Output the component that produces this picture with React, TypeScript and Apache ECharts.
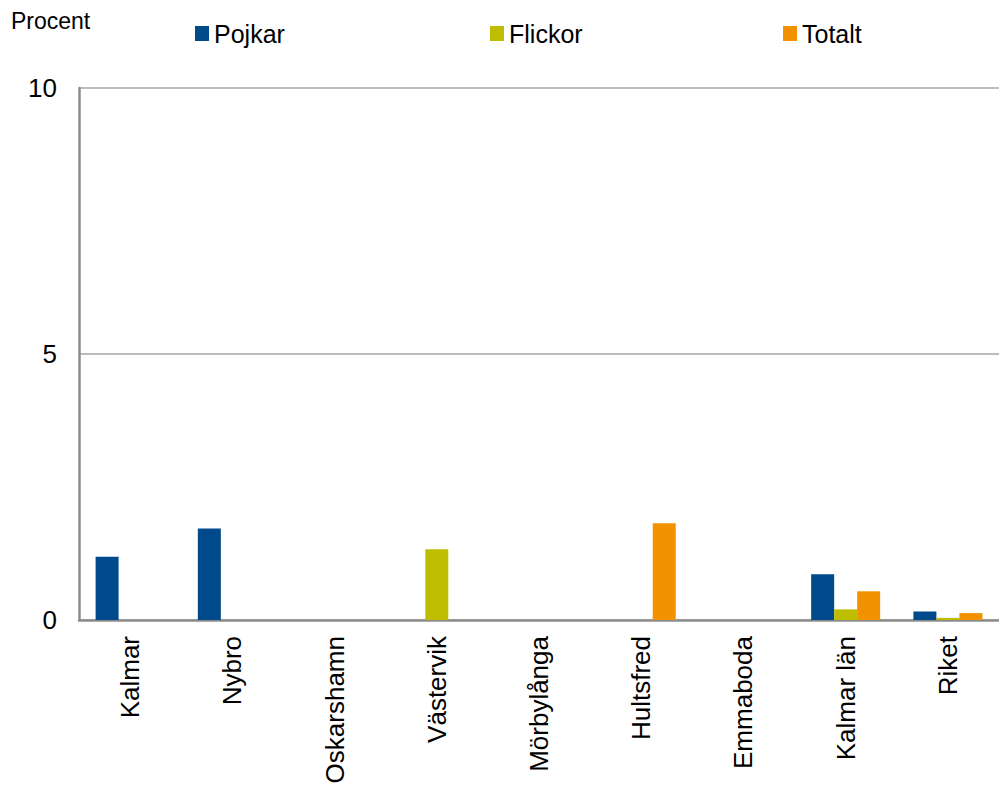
import React, { useEffect, useRef } from "react";
import * as echarts from "echarts";

const categories = ["Kalmar", "Nybro", "Oskarshamn", "Västervik", "Mörbylånga", "Hultsfred", "Emmaboda", "Kalmar län", "Riket"];
const pojkar = [1.19, 1.72, 0, 0, 0, 0, 0, 0.86, 0.16];
const flickor = [0, 0, 0, 1.33, 0, 0, 0, 0.2, 0.04];
const totalt = [0, 0, 0, 0, 0, 1.82, 0, 0.54, 0.13];
const yTicks = [0, 5, 10];

const FONT = "Liberation Sans, Arial, sans-serif";

export default function App() {
  const ref = useRef<HTMLDivElement>(null);
  useEffect(() => {
    if (!ref.current) return;
    const chart = echarts.init(ref.current, null, { renderer: "svg" });
    const legendCommon = {
      top: 21,
      padding: 0,
      itemWidth: 14,
      itemHeight: 15,
      itemGap: 0,
      icon: "rect",
      textStyle: { fontFamily: FONT, fontSize: 25, color: "#000" },
    };
    chart.setOption({
      animation: false,
      textStyle: { fontFamily: FONT },
      legend: [
        { ...legendCommon, data: ["Pojkar"], left: 195 },
        { ...legendCommon, data: ["Flickor"], left: 490 },
        { ...legendCommon, data: ["Totalt"], left: 783 },
      ],
      graphic: [
        {
          type: "text",
          left: 11,
          top: 9,
          style: { text: "Procent", fontFamily: FONT, fontSize: 23, fill: "#000" },
        },
      ],
      grid: { left: 79, right: 0, top: 88, bottom: 169, containLabel: false },
      xAxis: {
        type: "category",
        data: categories,
        axisLine: { show: true, lineStyle: { color: "#8c8c8c", width: 2.5 } },
        axisTick: { show: false },
        axisLabel: {
          rotate: 90,
          fontSize: 26,
          color: "#000",
          fontFamily: FONT,
          margin: 16,
          interval: 0,
        },
      },
      yAxis: {
        type: "value",
        min: 0,
        max: 10,
        interval: 5,
        axisLine: { show: true, lineStyle: { color: "#8c8c8c", width: 2.5 } },
        axisTick: { show: false },
        axisLabel: {
          fontSize: 26,
          color: "#000",
          fontFamily: FONT,
          margin: 22,
          formatter: (v: number) => (yTicks.includes(v) ? String(v) : ""),
        },
        splitLine: { show: true, lineStyle: { color: "#a6a6a6", width: 1.5 } },
      },
      series: [
        { name: "Pojkar", type: "bar", data: pojkar, barWidth: 23, barGap: "0%", itemStyle: { color: "#004a8c" } },
        { name: "Flickor", type: "bar", data: flickor, barWidth: 23, barGap: "0%", itemStyle: { color: "#bfbd00" } },
        { name: "Totalt", type: "bar", data: totalt, barWidth: 23, barGap: "0%", itemStyle: { color: "#f39200" } },
      ],
    });
    return () => chart.dispose();
  }, []);
  return <div ref={ref} style={{ width: 999, height: 789, position: "absolute", left: 0, top: 0 }} />;
}
